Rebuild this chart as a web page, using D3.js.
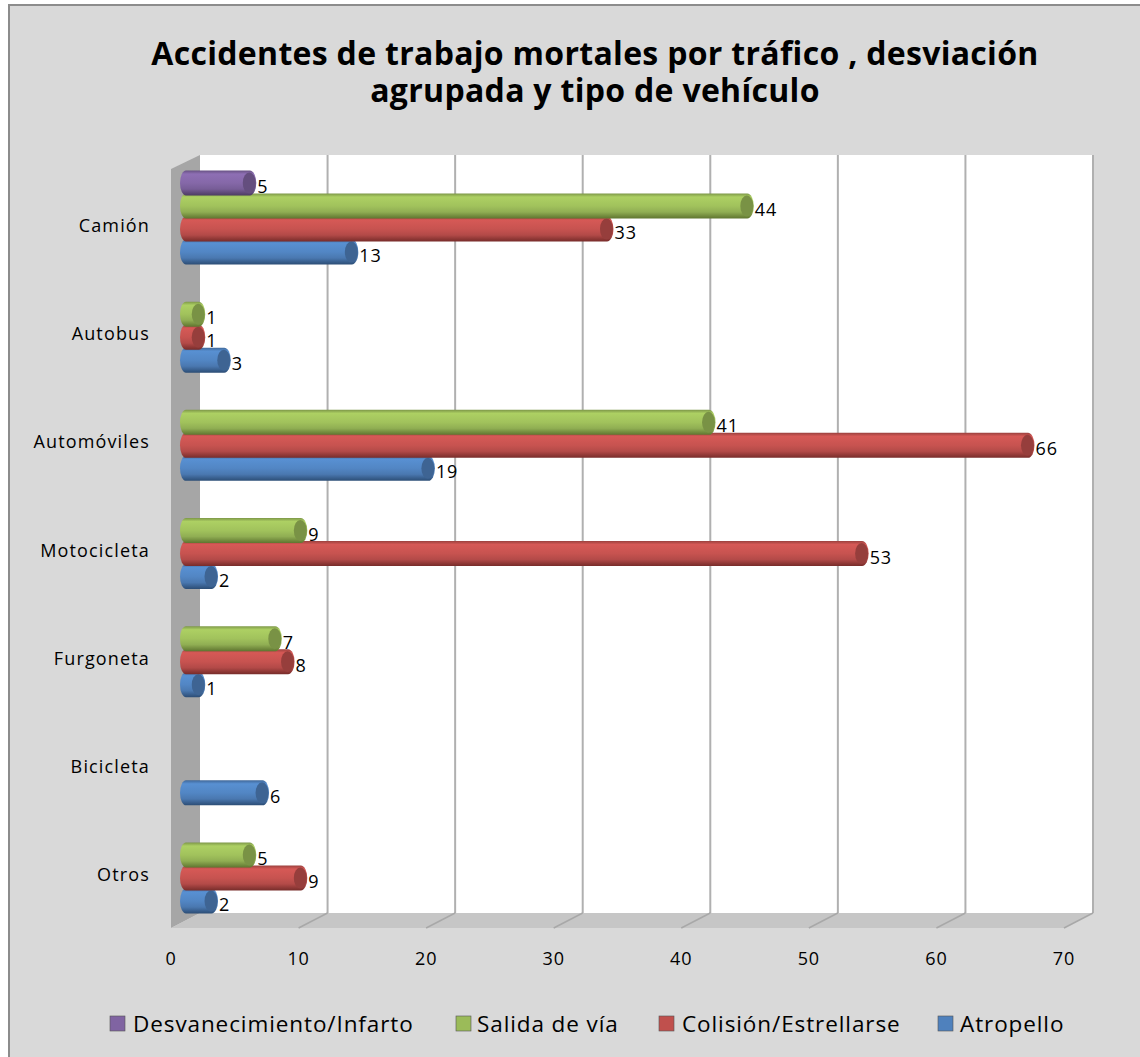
<!DOCTYPE html>
<html><head><meta charset="utf-8">
<script src="https://cdn.jsdelivr.net/npm/d3@7"></script>
<style>html,body{margin:0;padding:0;background:#fff}svg{display:block}text{font-family:"Open Sans",sans-serif;fill:#000}</style>
</head><body><svg id="c" width="1140" height="1057"></svg>
<script>
const categories=["Camión","Autobus","Automóviles","Motocicleta","Furgoneta","Bicicleta","Otros"];
const atropello=[13,3,19,2,1,6,2];
const colision=[33,1,66,53,8,null,9];
const salida=[44,1,41,9,7,null,5];
const desvanecimiento=[5,null,null,null,null,null,null];
const seriesNames=["Atropello","Colisión/Estrellarse","Salida de vía","Desvanecimiento/Infarto"];
const seriesValues=[atropello,colision,salida,desvanecimiento];
const seriesColors=["#4f81bd","#c0504d","#9bbb59","#8064a2"];
const darkColors=["#2c4d75","#772c2a","#5f7530","#4d3b62"];
const xTicks=[0,10,20,30,40,50,60,70];
const titleLines=["Accidentes de trabajo mortales por tráfico , desviación","agrupada y tipo de vehículo"];
const legendOrder=[3,2,1,0];

const svg=d3.select("#c");
const dx=29,dy=15;
const x=d3.scaleLinear().domain([0,70]).range([171,1064]);
const yFloor=928,yTop=155;
const cat=d3.scalePoint().domain(categories).range([228,877]);
const ser=d3.scalePoint().domain(seriesNames).range([24,-45]);

const defs=svg.append("defs");
seriesColors.forEach((c,i)=>{
  const g=defs.append("linearGradient").attr("id","g"+i).attr("x1",0).attr("x2",0).attr("y1",0).attr("y2",1);
  [[0,d3.color(c).darker(.6)],[.14,d3.color(c).brighter(.3)],[.5,d3.color(c).brighter(.1)],[.74,d3.color(c).darker(.2)],[1,darkColors[i]]]
   .forEach(([o,k])=>g.append("stop").attr("offset",o).attr("stop-color",k));
});
svg.append("rect").attr("x",0).attr("y",0).attr("width",1140).attr("height",1057).attr("fill","#fff");
svg.append("rect").attr("x",9).attr("y",5).attr("width",1140).attr("height",1060).attr("fill","#d9d9d9").attr("stroke","#8c8c8c").attr("stroke-width",2);
// walls
svg.append("rect").attr("x",x(0)+dx).attr("y",yTop).attr("width",x(70)-x(0)).attr("height",yFloor-dy-yTop).attr("fill","#fff");
svg.append("polygon").attr("points",[[x(0),yTop+14],[x(0)+dx,yTop],[x(0)+dx,yFloor-dy],[x(0),yFloor]].join(" ")).attr("fill","#a6a6a6");
svg.append("polygon").attr("points",[[x(0),yFloor],[x(0)+dx,yFloor-dy],[x(70)+dx,yFloor-dy],[x(70),yFloor]].join(" ")).attr("fill","#c6c6c6");
xTicks.slice(1).forEach(t=>{
  svg.append("line").attr("x1",x(t)+dx).attr("x2",x(t)+dx).attr("y1",yTop).attr("y2",yFloor-dy).attr("stroke","#b0b0b0").attr("stroke-width",2);
  svg.append("line").attr("x1",x(t)).attr("x2",x(t)+dx).attr("y1",yFloor).attr("y2",yFloor-dy).attr("stroke","#a8a8a8").attr("stroke-width",1.5);
});
xTicks.forEach(t=>svg.append("text").attr("x",x(t)).attr("y",965).attr("text-anchor","middle").attr("font-size",18).attr("letter-spacing",.9).text(t));
categories.forEach(c=>svg.append("text").attr("x",150).attr("y",cat(c)+4).attr("text-anchor","end").attr("font-size",18).attr("letter-spacing",1.15).text(c));
// bars
const h=25,capW=13;
seriesNames.forEach((s,i)=>{
  categories.forEach((c,j)=>{
    const v=seriesValues[i][j]; if(v==null) return;
    const cy=cat(c)+ser(s), xe=x(v)+21.5, x0=180;
    svg.append("path").attr("d",`M${x0+6},${cy-h/2}H${xe-capW/2}A${capW/2},${h/2} 0 0 1 ${xe-capW/2},${cy+h/2}H${x0+6}A6,${h/2} 0 0 1 ${x0+6},${cy-h/2}Z`).attr("fill",`url(#g${i})`);
    svg.append("ellipse").attr("cx",xe-capW/2-.5).attr("cy",cy).attr("rx",capW/2).attr("ry",h/2-2).attr("fill",d3.color(seriesColors[i]).darker(.7));
    svg.append("text").attr("x",xe+1).attr("y",cy+10).attr("font-size",18).attr("letter-spacing",.9).text(v);
  });
});
// title
titleLines.forEach((t,i)=>svg.append("text").attr("x",595).attr("y",65+i*37).attr("text-anchor","middle").attr("font-size",32).attr("font-weight",700).attr("letter-spacing",.3).text(t));
// legend
const legendX=[110,456,659,938];
const legendTextX=[133,477,682,960];
legendOrder.forEach((si,k)=>{
  svg.append("rect").attr("x",legendX[k]).attr("y",1016).attr("width",15).attr("height",15).attr("fill",seriesColors[si]).attr("stroke","#555").attr("stroke-width",.6);
  svg.append("text").attr("x",legendTextX[k]).attr("y",1032).attr("font-size",22.5).attr("letter-spacing",.9).text(seriesNames[si]);
});
</script></body></html>
